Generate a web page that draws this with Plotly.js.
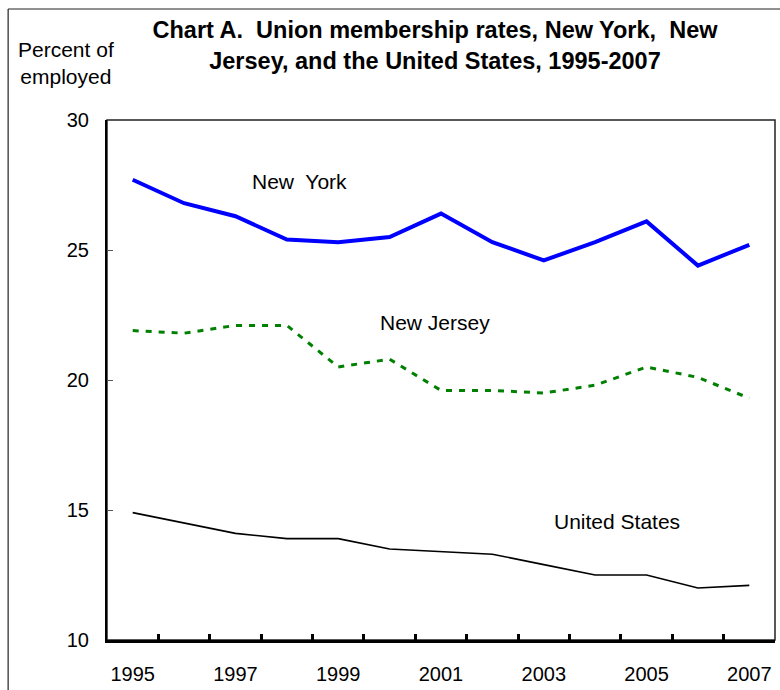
<!DOCTYPE html>
<html>
<head>
<meta charset="utf-8">
<script src="https://cdn.plot.ly/plotly-3.0.1.min.js"></script>
<style>html,body{margin:0;padding:0;background:#fff;}#chart{width:780px;height:690px;}</style>
</head>
<body>
<div id="chart"></div>
<script>
var years = ["1995","1996","1997","1998","1999","2000","2001","2002","2003","2004","2005","2006","2007"];
var yearLabels = ["1995","","1997","","1999","","2001","","2003","","2005","","2007"];
var newYork = [27.7,26.8,26.3,25.4,25.3,25.5,26.4,25.3,24.6,25.3,26.1,24.4,25.2];
var newJersey = [21.9,21.8,22.1,22.1,20.5,20.8,19.6,19.6,19.5,19.8,20.5,20.1,19.3];
var unitedStates = [14.9,14.5,14.1,13.9,13.9,13.5,13.4,13.3,12.9,12.5,12.5,12.0,12.1];
var yTicks = [10,15,20,25,30];

var FONT = "Liberation Sans, Arial, Helvetica, sans-serif";

var traces = [
  {x: years, y: newYork, type: "scatter", mode: "lines", name: "New York",
   line: {color: "#0000FF", width: 4}},
  {x: years, y: newJersey, type: "scatter", mode: "lines", name: "New Jersey",
   line: {color: "#008000", width: 3, dash: "6px,7px"}},
  {x: years, y: unitedStates, type: "scatter", mode: "lines", name: "United States",
   line: {color: "#000000", width: 1.6}}
];

var layout = {
  width: 780, height: 690,
  margin: {l: 107, r: 5, t: 120, b: 50},
  paper_bgcolor: "#fff", plot_bgcolor: "#fff",
  showlegend: false,
  font: {family: FONT, size: 20, color: "#000"},
  title: {
    text: "Chart A.&nbsp; Union membership rates, New York,&nbsp; New<br>Jersey, and the United States, 1995-2007",
    font: {family: FONT, size: 23.5, weight: "bold", color: "#000"},
    x: 0.5577, xref: "container", xanchor: "center",
    y: 0.945, yref: "container", yanchor: "top"
  },
  xaxis: {
    type: "category",
    range: [-0.5, 12.5],
    tickmode: "array", tickvals: years, ticktext: yearLabels,
    tickson: "boundaries", tickangle: 0,
    ticks: "inside", ticklen: 6, tickwidth: 3, tickcolor: "#000",
    showline: true, linewidth: 3, linecolor: "#000",
    showgrid: false, zeroline: false,
    tickfont: {family: FONT, size: 20, color: "#000"},
    ticklabelstandoff: 14,
    fixedrange: true
  },
  yaxis: {
    range: [10, 30],
    tickmode: "array", tickvals: yTicks,
    ticks: "inside", ticklen: 6, tickwidth: 1, tickcolor: "#555",
    showline: true, linewidth: 2, linecolor: "#000",
    showgrid: false, zeroline: false,
    tickfont: {family: FONT, size: 20, color: "#000"},
    ticklabelstandoff: 12,
    fixedrange: true
  },
  shapes: [
    {type: "rect", xref: "paper", yref: "paper", x0: 0, x1: 1, y0: 0, y1: 1,
     line: {color: "#222", width: 1.5}, layer: "below"},
    {type: "line", xref: "paper", yref: "paper", x0: -0.148, x1: 1.2, y0: 1.2135, y1: 1.2135,
     line: {color: "#222", width: 1.2}},
    {type: "line", xref: "paper", yref: "paper", x0: -0.148, x1: -0.148, y0: 1.2135, y1: -0.3,
     line: {color: "#222", width: 1.2}}
  ],
  annotations: [
    {text: "Percent of<br>employed", xref: "paper", yref: "paper",
     x: -0.0614, y: 1.162, xanchor: "center", yanchor: "top", showarrow: false,
     font: {family: FONT, size: 21, color: "#000"}},
    {text: "New&nbsp; York", xref: "paper", yref: "paper",
     x: (299-107)/668, y: 1-(181-120)/520, xanchor: "center", yanchor: "middle", showarrow: false,
     font: {family: FONT, size: 21, color: "#000"}},
    {text: "New Jersey", xref: "paper", yref: "paper",
     x: (435-107)/668, y: 1-(322-120)/520, xanchor: "center", yanchor: "middle", showarrow: false,
     font: {family: FONT, size: 21, color: "#000"}},
    {text: "United States", xref: "paper", yref: "paper",
     x: (617-107)/668, y: 1-(521-120)/520, xanchor: "center", yanchor: "middle", showarrow: false,
     font: {family: FONT, size: 21, color: "#000"}}
  ]
};

Plotly.newPlot("chart", traces, layout, {displayModeBar: false, staticPlot: true});
</script>
</body>
</html>
